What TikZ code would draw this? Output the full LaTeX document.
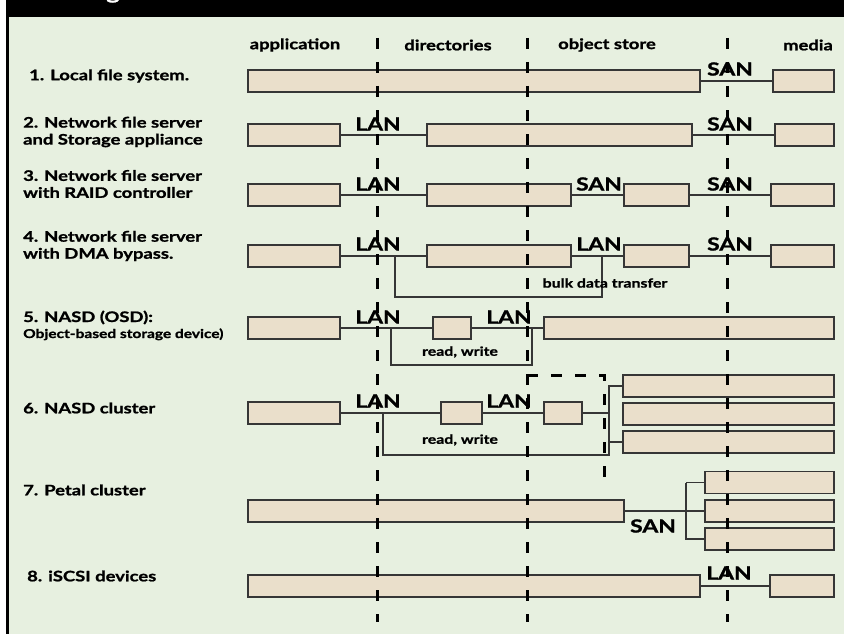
\documentclass[tikz,border=0pt]{standalone}
\usepackage{fontspec}
\setmainfont{Lato}[BoldFeatures={FakeStretch=1.27,FakeBold=1.2}]
\definecolor{bg}{HTML}{E7F0E0}
\definecolor{boxfill}{HTML}{EADFCB}
\definecolor{boxline}{HTML}{363636}
\newcommand{\mybox}[4]{\node[bx,minimum width={(#3)-(#2)}] (#1) at ({((#2)+(#3))/2},#4) {};}
\tikzset{
  bx/.style={draw=boxline, fill=boxfill, line width=1.8pt, minimum height=22pt, inner sep=0pt, outer sep=0pt},
  conn/.style={draw=boxline, line width=1.3pt},
  net/.style={font=\fontsize{18}{18}\selectfont\bfseries, inner sep=0pt},
  col/.style={font=\fontsize{14.5}{15}\selectfont\bfseries, inner sep=0pt},
  rowlab/.style={anchor=west, align=left, inner sep=0pt, font=\fontsize{14.5}{17}\selectfont\bfseries},
  small/.style={font=\fontsize{12.5}{13}\selectfont\bfseries, inner sep=0pt},
  colline/.style={line width=3pt, dash pattern=on 11pt off 13pt},
}
\begin{document}
\begin{tikzpicture}[x=1pt,y=-1pt]
\useasboundingbox (0,0) rectangle (844,634);
\fill[white] (0,0) rectangle (844,634);
\fill[bg] (7,17) rectangle (844,634);
\fill[black] (6,0) rectangle (844,17);
\fill[black] (6,0) rectangle (8.5,634);
\node[text=white, font=\fontsize{20}{20}\selectfont\bfseries, anchor=base, inner sep=0pt] (ttl) at (113,-1) {g};

% column headers
\node[col] (h1) at (295,45) {application};
\node[col] (h2) at (448,45) {directories};
\node[col] (h3) at (607,45) {object store};
\node[col] (h4) at (808,45) {media};

% row labels
\node[rowlab] (l1) at (29,76) {1. Local file system.};
\node[rowlab] (l2) at (23,132) {2. Network file server\\and Storage appliance};
\node[rowlab] (l3) at (23,184) {3. Network file server\\with RAID controller};
\node[rowlab] (l4) at (23,246) {4. Network file server\\with DMA bypass.};
\node[rowlab, anchor=base west] (l5) at (23,322) {5. NASD (OSD):};
\node[anchor=base west, inner sep=0pt, font=\fontsize{12.2}{12}\selectfont\bfseries] (l5b) at (23,338) {Object-based storage device)};
\node[rowlab] (l6) at (23,408) {6. NASD cluster};
\node[rowlab] (l7) at (23,490) {7. Petal cluster};
\node[rowlab] (l8) at (27,576) {8. iSCSI devices};

% connectors (drawn below boxes)
\begin{scope}[conn]
\draw (700,81) -- (773,81);
\draw (340,135) -- (427,135);
\draw (692,135) -- (775,135);
\draw (340,195) -- (427,195);
\draw (571,195) -- (624,195);
\draw (689,195) -- (771,195);
\draw (340,256) -- (427,256);
\draw (571,256) -- (624,256);
\draw (689,256) -- (771,256);
\draw (395,256) -- (395,297) -- (602,297) -- (602,256);
\draw (340,328) -- (433,328);
\draw (471,328) -- (544,328);
\draw (391,328) -- (391,365) -- (532,365) -- (532,328);
\draw (340,413) -- (441,413);
\draw (482,413) -- (544,413);
\draw (582,413) -- (609,413);
\draw (383,413) -- (383,455) -- (609,455) -- (609,386) -- (623,386);
\draw (609,442) -- (623,442);
\draw (624,511) -- (705,511);
\draw (686,482.5) -- (686,539) -- (705,539);
\draw (686,482.5) -- (705,482.5);
\draw (700,586) -- (770,586);
\end{scope}

% boxes
\mybox{r1a}{248}{700}{81}
\mybox{r1b}{773}{834}{81}
\mybox{r2a}{248}{340}{135}
\mybox{r2b}{427}{692}{135}
\mybox{r2c}{775}{834}{135}
\mybox{r3a}{248}{340}{195}
\mybox{r3b}{427}{571}{195}
\mybox{r3c}{624}{689}{195}
\mybox{r3d}{771}{834}{195}
\mybox{r4a}{248}{340}{256}
\mybox{r4b}{427}{571}{256}
\mybox{r4c}{624}{689}{256}
\mybox{r4d}{771}{834}{256}
\mybox{r5a}{248}{340}{328}
\mybox{r5b}{433}{471}{328}
\mybox{r5c}{544}{834}{328}
\mybox{r6a}{248}{340}{413}
\mybox{r6b}{441}{482}{413}
\mybox{r6c}{544}{582}{413}
\mybox{r6d}{623}{834}{386}
\mybox{r6e}{623}{834}{414}
\mybox{r6f}{623}{834}{442}
\mybox{r7a}{248}{624}{511}
\mybox{r7b}{705}{834}{482.5}
\mybox{r7c}{705}{834}{511}
\mybox{r7d}{705}{834}{539}
\mybox{r8a}{248}{700}{586}
\mybox{r8b}{770}{834}{586}

% network labels
\node[net] (n1) at (730,69) {SAN};
\node[net] (n2a) at (378,124) {LAN};
\node[net] (n2b) at (730,124) {SAN};
\node[net] (n3a) at (378,184) {LAN};
\node[net] (n3b) at (599,184) {SAN};
\node[net] (n3c) at (730,184) {SAN};
\node[net] (n4a) at (378,244) {LAN};
\node[net] (n4b) at (599,244) {LAN};
\node[net] (n4c) at (730,244) {SAN};
\node[net] (n5a) at (378,317) {LAN};
\node[net] (n5b) at (509,317) {LAN};
\node[net] (n6a) at (378,401) {LAN};
\node[net] (n6b) at (509,401) {LAN};
\node[net] (n7) at (653,526) {SAN};
\node[net] (n8) at (729,573) {LAN};
\node[small] (bulk) at (605,283) {bulk data transfer};
\node[small] (rw5) at (460,352) {read, write};
\node[small] (rw6) at (460,440) {read, write};

% column dividers
\coordinate (c1t) at (377,38); \coordinate (c1b) at (377,622);
\coordinate (c2t) at (527,38); \coordinate (c2b) at (527,622);
\coordinate (c3t) at (727,38); \coordinate (c3b) at (727,622);
\draw[colline] (c1t) -- (c1b);
\draw[colline] (c2t) -- (c2b);
\draw[colline] (c3t) -- (c3b);
\coordinate (d1) at (527,375); \coordinate (d2) at (604,375); \coordinate (d3) at (604,480);
\draw[colline] (d1) -- (d2) -- (d3);
\end{tikzpicture}
\end{document}
